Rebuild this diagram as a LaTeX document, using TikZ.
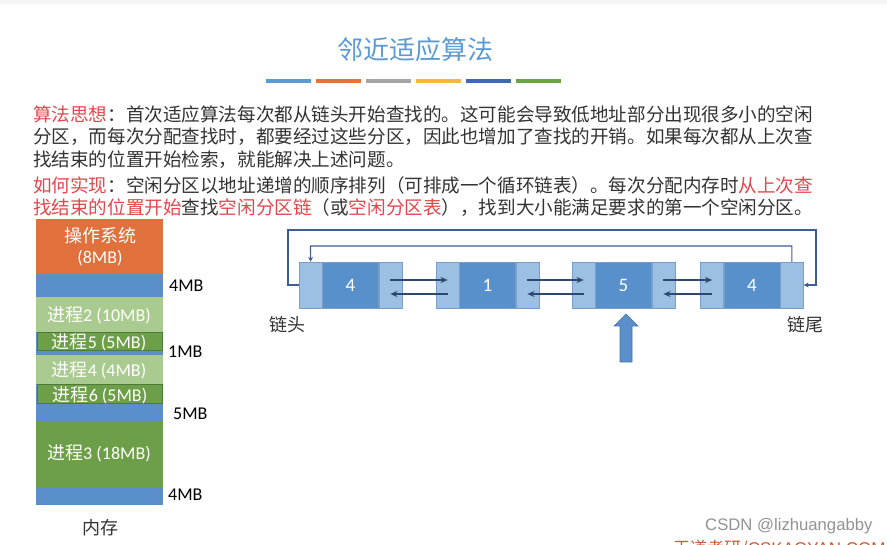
\documentclass[tikz,border=0pt]{standalone}
\usepackage{fontspec}
\setmainfont{Noto Sans CJK SC}
\newfontfamily\lat{Carlito}
\newfontfamily\marca{Liberation Sans}
\usetikzlibrary{positioning,arrows.meta}

\definecolor{azultit}{HTML}{5B9BD5}
\definecolor{barA}{HTML}{5B9BD5}
\definecolor{barB}{HTML}{E47438}
\definecolor{barC}{HTML}{A5A5A5}
\definecolor{barD}{HTML}{F4B840}
\definecolor{barE}{HTML}{4169B0}
\definecolor{barF}{HTML}{6BA346}
\definecolor{gristexto}{HTML}{333333}
\definecolor{rojo}{HTML}{E3474D}
\definecolor{naranja}{HTML}{E0703C}
\definecolor{azulmem}{HTML}{5A8FCB}
\definecolor{verdeclaro}{HTML}{AACB8F}
\definecolor{verde}{HTML}{6C9F47}
\definecolor{verdeborde}{HTML}{4E7A35}
\definecolor{azulclaro}{HTML}{9CC0E4}
\definecolor{azulmedio}{HTML}{5790CB}
\definecolor{azulborde}{HTML}{7A9CC8}
\definecolor{azulflecha}{HTML}{2C4770}
\definecolor{azullazo}{HTML}{3D5E92}
\definecolor{rojomarca}{HTML}{C55A3A}

\begin{document}
\begin{tikzpicture}[x=1pt,y=-1pt,
    texto/.style={anchor=west,inner sep=0pt,font=\fontsize{18.57}{20}\selectfont,text=gristexto},
    bloque/.style={inner sep=0pt,text=white,font=\fontsize{18}{20}\selectfont},
    medida/.style={anchor=west,inner sep=0pt,font=\lat\fontsize{18}{20}\selectfont,text=black},
    lado/.style={fill=azulclaro,draw=azulborde,minimum width=23,minimum height=46,inner sep=0pt},
    medio/.style={fill=azulmedio,draw=azulborde,minimum width=56,minimum height=46,inner sep=0pt,
      text=white,font=\lat\fontsize{19}{20}\selectfont},
    enlace/.style={-{Stealth[length=7pt,width=6pt]},line width=1.6pt,draw=azulflecha},
    lazo/.style={-{Stealth[length=5pt,width=5pt]},line width=1.1pt,draw=azullazo},
    etiqueta/.style={inner sep=0pt,font=\fontsize{18}{20}\selectfont,text=gristexto}]
  \useasboundingbox (0,0) rectangle (887,545);
  \clip (0,0) rectangle (887,545);
  \fill[white] (0,0) rectangle (887,545);
  \fill[gray!8] (0,0) rectangle (887,4);

  % Titulo y barras
  \node[inner sep=0pt,text=azultit,font=\fontsize{26}{28}\selectfont] (tit) at (415,50) {邻近适应算法};
  \foreach \c [count=\i from 0] in {barA,barB,barC,barD,barE,barF}
    \fill[\c] (266+\i*50,79) rectangle ++(45,4);

  % Texto
  \node[texto] (t1) at (33,114) {{\color{rojo}算法思想}：首次适应算法每次都从链头开始查找的。这可能会导致低地址部分出现很多小的空闲};
  \node[texto] (t2) at (33,137) {分区，而每次分配查找时，都要经过这些分区，因此也增加了查找的开销。如果每次都从上次查};
  \node[texto] (t3) at (33,160) {找结束的位置开始检索，就能解决上述问题。};
  \node[texto] (t4) at (33,185) {{\color{rojo}如何实现}：空闲分区以地址递增的顺序排列（可排成一个循环链表）。每次分配内存时{\color{rojo}从上次查}};
  \node[texto] (t5) at (33,208) {{\color{rojo}找结束的位置开始}查找{\color{rojo}空闲分区链}（或{\color{rojo}空闲分区表}），找到大小能满足要求的第一个空闲分区。};

  % Memoria
  \foreach \ya/\yb/\col in {219/274/naranja,274/297/azulmem,297/332/verdeclaro,332/355/azulmem,
      355/384/verdeclaro,384/421/azulmem,421/488/verde,488/505/azulmem}
    \fill[\col] (36,\ya) rectangle (163,\yb);
  \filldraw[fill=verde,draw=verdeborde,line width=0.6pt] (37,332) rectangle (162,350);
  \filldraw[fill=verde,draw=verdeborde,line width=0.6pt] (37,384) rectangle (162,403);

  \node[bloque] (so) at (100,236) {操作系统};
  \node[bloque] (so2) at (100,258) {\lat (8MB)};
  \node[bloque] (p2) at (99,315) {进程{\lat 2 (10MB)}};
  \node[bloque] (p5) at (99,342) {进程{\lat 5 (5MB)}};
  \node[bloque] (p4) at (99,370) {进程{\lat 4 (4MB)}};
  \node[bloque] (p6) at (100,395) {进程{\lat 6 (5MB)}};
  \node[bloque] (p3) at (99,453) {进程{\lat 3 (18MB)}};

  \node[medida] (h1) at (169,286) {4MB};
  \node[medida] (h2) at (168,352) {1MB};
  \node[medida] (h3) at (173,414) {5MB};
  \node[medida] (h4) at (168,495) {4MB};
  \node[etiqueta] (mem) at (100,528) {内存};

  % Lista enlazada
  \foreach \i/\cx/\v in {1/350.5/4,2/487.5/1,3/623.5/5,4/752/4}{
    \node[medio] (m\i) at (\cx,285) {\v};
    \node[lado,left=0pt of m\i] (l\i) {};
    \node[lado,right=0pt of m\i] (r\i) {};
  }
  \foreach \a/\b in {1/2,2/3,3/4}{
    \draw[enlace] ([yshift=5pt]r\a.center) -- ([yshift=5pt]l\b.center);
    \draw[enlace] ([yshift=-9pt]l\b.center) -- ([yshift=-9pt]r\a.center);
  }

  % Lazos del ciclo
  \coordinate (esqA) at (288,230);
  \coordinate (esqB) at (816,230);
  \draw[lazo] (l1.west) -| (esqA) -- (esqB) |- (r4.east);
  \coordinate (esqC) at (310.5,246);
  \draw[lazo] (r4.north) |- (esqC) -- (l1.north);

  \node[etiqueta] (cab) at (287,325) {链头};
  \node[etiqueta] (col) at (805,325) {链尾};

  % Flecha grande
  \filldraw[fill=azulmem,draw=azulmem!80!black,line width=0.6pt]
    (620,362) -- (620,326) -- (614,326) -- (626,314) -- (638,326) -- (632,326) -- (632,362) -- cycle;

  % Marcas de agua
  \node[anchor=west,inner sep=0pt,text=gray!85,font=\marca\fontsize{16.7}{18}\selectfont] (csdn) at (705,526) {CSDN @lizhuangabby};
  \node[anchor=base west,inner sep=0pt,text=rojomarca,font=\fontsize{17}{18}\selectfont] (wd) at (673,554) {王道考研/{\marca CSKAOYAN.COM}};
\end{tikzpicture}
\end{document}
